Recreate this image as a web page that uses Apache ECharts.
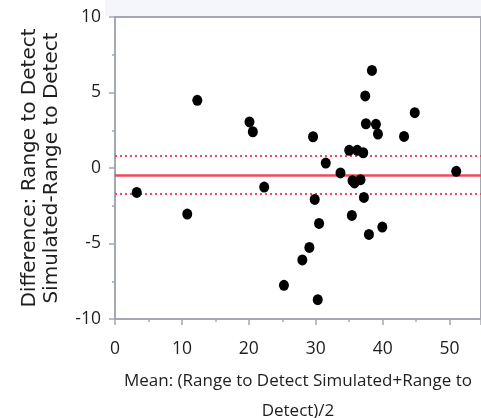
<!DOCTYPE html>
<html>
<head>
<meta charset="utf-8">
<script src="https://cdn.jsdelivr.net/npm/echarts@6/dist/echarts.min.js"></script>
<style>
  html, body { margin: 0; padding: 0; background: #ffffff; }
  #chart { width: 481px; height: 418px; }
</style>
</head>
<body>
<div id="chart"></div>
<script>
// Bland-Altman style agreement plot: mean of the two measurements vs. their difference
const meanValues = [
  3.25, 10.8, 12.3, 20.1, 20.6, 22.3, 25.25, 28.0, 29.05, 29.6, 29.85,
  30.3, 30.5, 31.5, 33.7, 35.0, 36.2, 37.1, 35.5, 35.8, 36.7, 35.4,
  37.2, 37.4, 37.5, 38.4, 39.0, 39.3, 37.95, 39.95, 43.2, 44.8, 51.0
];
const diffValues = [
  -1.62, -3.05, 4.48, 3.05, 2.4, -1.26, -7.77, -6.09, -5.26, 2.07, -2.08,
  -8.72, -3.67, 0.33, -0.33, 1.17, 1.17, 1.01, -0.84, -0.99, -0.77, -3.14,
  -1.95, 4.77, 2.93, 6.46, 2.89, 2.25, -4.4, -3.91, 2.09, 3.66, -0.22
];

// Mean difference and its limits
const biasLine = [-0.45];
const limitLines = [0.81, -1.70];

const xTickValues = [0, 10, 20, 30, 40, 50];
const yTickValues = [-10, -5, 0, 5, 10];

const labelFont = "'Open Sans', 'Noto Sans', sans-serif";
const yTitleFont = "'DejaVu Sans', 'Noto Sans', sans-serif";
const axisGray = '#a3a8b1';
const red = '#f0475a';
const textColor = '#1e1e1e';

const points = meanValues.map((m, i) => [m, diffValues[i]]);

const chart = echarts.init(document.getElementById('chart'), null, { renderer: 'canvas' });

chart.setOption({
  backgroundColor: '#ffffff',
  animation: false,
  graphic: [{
    type: 'rect',
    left: 105, top: 0,
    shape: { width: 376, height: 16 },
    style: { fill: '#f5f6fb' },
    z: -1
  }],
  grid: {
    left: 115, top: 17, right: 0, bottom: 99,
    outerBoundsMode: 'none',
    containLabel: false,
    show: true,
    borderColor: axisGray,
    borderWidth: 2,
    backgroundColor: '#ffffff'
  },
  xAxis: {
    type: 'value',
    min: xTickValues[0],
    max: 54.7,
    interval: 10,
    name: 'Mean: (Range to Detect Simulated+Range to\nDetect)/2',
    nameLocation: 'middle',
    nameGap: 47,
    nameTextStyle: { fontFamily: labelFont, fontSize: 17, color: textColor, lineHeight: 30 },
    axisLine: { show: true, onZero: false, lineStyle: { color: axisGray, width: 2 } },
    axisTick: { show: true, inside: false, length: 6, lineStyle: { color: axisGray, width: 1.5 } },
    minorTick: { show: true, splitNumber: 2, length: 3, lineStyle: { color: axisGray, width: 1.5 } },
    axisLabel: { margin: 21, fontFamily: labelFont, fontSize: 17.5, color: textColor, showMaxLabel: false },
    splitLine: { show: false }
  },
  yAxis: {
    type: 'value',
    min: yTickValues[0],
    max: yTickValues[yTickValues.length - 1],
    interval: 5,
    name: 'Difference: Range to Detect\nSimulated-Range to Detect',
    nameLocation: 'middle',
    nameGap: 52,
    nameRotate: 90,
    nameTextStyle: { fontFamily: yTitleFont, fontSize: 20, color: textColor, lineHeight: 22 },
    axisLine: { show: true, onZero: false, lineStyle: { color: axisGray, width: 2 } },
    axisTick: { show: true, inside: false, length: 6, lineStyle: { color: axisGray, width: 1.5 } },
    minorTick: { show: true, splitNumber: 2, length: 3, lineStyle: { color: axisGray, width: 1.5 } },
    axisLabel: { margin: 14, fontFamily: labelFont, fontSize: 17.5, color: textColor },
    splitLine: { show: false }
  },
  series: [{
    type: 'scatter',
    data: points,
    symbol: 'circle',
    symbolSize: [10, 11],
    itemStyle: { color: '#000000', opacity: 1 },
    z: 3,
    markLine: {
      silent: true,
      symbol: 'none',
      label: { show: false },
      z: 2,
      data: [
        { yAxis: biasLine[0], lineStyle: { color: red, width: 2.5, type: 'solid', opacity: 1 } },
        { yAxis: limitLines[0], lineStyle: { color: red, width: 2, type: [2, 3], opacity: 1 } },
        { yAxis: limitLines[1], lineStyle: { color: red, width: 2, type: [2, 3], opacity: 1 } }
      ]
    }
  }]
});
</script>
</body>
</html>
